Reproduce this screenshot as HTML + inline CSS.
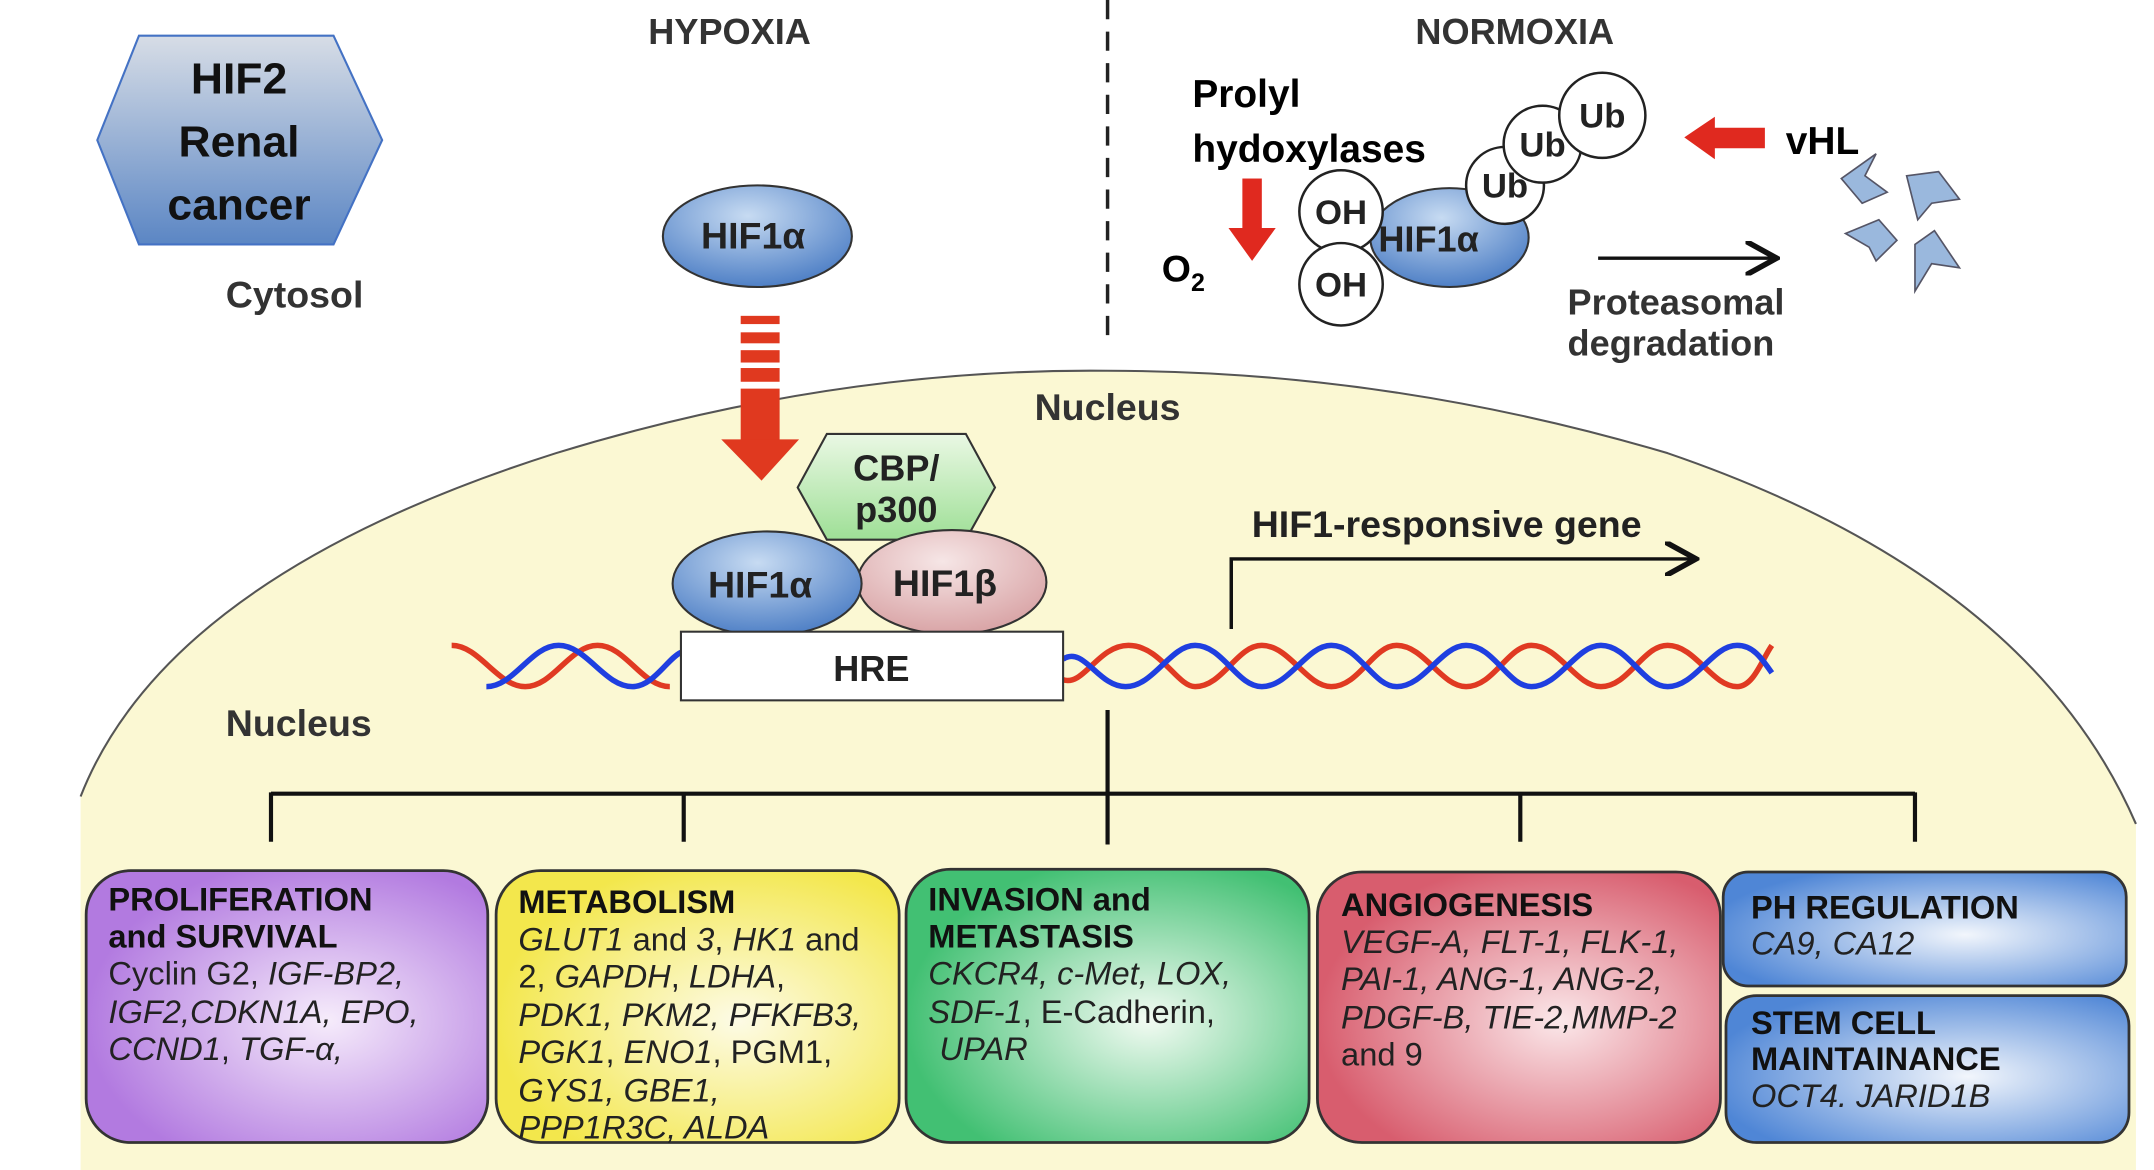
<!DOCTYPE html>
<html><head><meta charset="utf-8"><style>
html,body{margin:0;padding:0;background:#fff;}
svg{display:block;}
text{font-family:"Liberation Sans",sans-serif;}
.b{font-weight:bold;}
.t{font-size:23.5px;fill:#222;}
</style></head><body>
<svg width="2154" height="1170" viewBox="0 0 1550 852" preserveAspectRatio="none" xmlns="http://www.w3.org/2000/svg">
<defs>
<linearGradient id="hex" x1="0" y1="0" x2="0" y2="1"><stop offset="0" stop-color="#d7dde6"/><stop offset="1" stop-color="#5b86c4"/></linearGradient>
<radialGradient id="blue" cx="0.45" cy="0.3" r="0.7"><stop offset="0" stop-color="#c7dbf2"/><stop offset="1" stop-color="#4f80c6"/></radialGradient>
<radialGradient id="pink" cx="0.45" cy="0.3" r="0.7"><stop offset="0" stop-color="#f6e6e6"/><stop offset="1" stop-color="#d9a4a6"/></radialGradient>
<linearGradient id="green" x1="0" y1="0" x2="0" y2="1"><stop offset="0" stop-color="#eaf8e4"/><stop offset="1" stop-color="#9edf96"/></linearGradient>
<radialGradient id="gp" cx="0.6" cy="0.55" r="0.6"><stop offset="0" stop-color="#f6ecfb"/><stop offset="1" stop-color="#b27ae0"/></radialGradient>
<radialGradient id="gy" cx="0.6" cy="0.55" r="0.6"><stop offset="0" stop-color="#fdfbe6"/><stop offset="1" stop-color="#f3e74c"/></radialGradient>
<radialGradient id="gg" cx="0.6" cy="0.55" r="0.6"><stop offset="0" stop-color="#f3fbf3"/><stop offset="1" stop-color="#42c073"/></radialGradient>
<radialGradient id="gr" cx="0.6" cy="0.55" r="0.6"><stop offset="0" stop-color="#fbe8ea"/><stop offset="1" stop-color="#d85d6e"/></radialGradient>
<radialGradient id="gb" cx="0.6" cy="0.55" r="0.65"><stop offset="0" stop-color="#f2f6fc"/><stop offset="1" stop-color="#4f86d6"/></radialGradient>
<marker id="ah" markerWidth="10" markerHeight="10" refX="8" refY="5" orient="auto"><path d="M0,0 L9,5 L0,10" fill="none" stroke="#111" stroke-width="1.6"/></marker>
</defs>

<path d="M58,852 L58,580 Q120,420 400,330 Q600,268 797,270 Q1000,270 1200,330 Q1460,420 1537,600 L1537,852 Z" fill="#fbf8d3" stroke="none"/>
<path d="M58,580 Q120,420 400,330 Q600,268 797,270 Q1000,270 1200,330 Q1460,420 1537,600" fill="none" stroke="#555" stroke-width="1.5"/>

<polygon points="70,102 100,26 240,26 275,102 240,178 100,178" fill="url(#hex)" stroke="#4472c4" stroke-width="1.5"/>
<text x="172" y="68" text-anchor="middle" class="b" font-size="32" fill="#111">HIF2</text>
<text x="172" y="114" text-anchor="middle" class="b" font-size="32" fill="#111">Renal</text>
<text x="172" y="160" text-anchor="middle" class="b" font-size="32" fill="#111">cancer</text>

<text x="212" y="224" text-anchor="middle" class="b" font-size="27" fill="#333">Cytosol</text>
<text x="525" y="32" text-anchor="middle" class="b" font-size="26" fill="#333">HYPOXIA</text>
<text x="1090" y="32" text-anchor="middle" class="b" font-size="26" fill="#333">NORMOXIA</text>
<line x1="797" y1="0" x2="797" y2="245" stroke="#222" stroke-width="2.5" stroke-dasharray="14,9"/>

<ellipse cx="545" cy="172" rx="68" ry="37" fill="url(#blue)" stroke="#333" stroke-width="1.5"/>
<text x="542" y="181" text-anchor="middle" class="b" font-size="27" fill="#222">HIF1α</text>

<g fill="#e0391f">
<rect x="533" y="230" width="28" height="6"/>
<rect x="533" y="242" width="28" height="8"/>
<rect x="533" y="255" width="28" height="9"/>
<rect x="533" y="268" width="28" height="10"/>
<rect x="533" y="283" width="28" height="40"/>
<polygon points="519,320 575,320 548,350"/>
</g>

<text x="797" y="306" text-anchor="middle" class="b" font-size="27" fill="#333">Nucleus</text>
<text x="215" y="536" text-anchor="middle" class="b" font-size="27" fill="#333">Nucleus</text>

<path d="M325,470 C345,470 358,500 378,500 C398,500 410,470 430,470 C450,470 462,500 482,500" fill="none" stroke="#e03a22" stroke-width="4"/>
<path d="M350,500 C370,500 382,470 402,470 C422,470 435,500 455,500 C470,500 480,480 490,475" fill="none" stroke="#1f3fe0" stroke-width="4"/>
<path d="M765,495 C780,500 790,470 812,470 C835,470 847,500 860,500 C880,500 890,470 908,470 C928,470 940,500 958,500 C978,500 988,470 1005,470 C1025,470 1037,500 1055,500 C1075,500 1085,470 1102,470 C1122,470 1134,500 1152,500 C1172,500 1182,470 1200,470 C1220,470 1232,500 1250,500 C1262,500 1268,480 1275,470" fill="none" stroke="#e03a22" stroke-width="4"/>
<path d="M765,480 C780,470 790,500 810,500 C830,500 842,470 860,470 C880,470 890,500 908,500 C928,500 940,470 958,470 C978,470 988,500 1005,500 C1025,500 1037,470 1055,470 C1075,470 1085,500 1102,500 C1122,500 1134,470 1152,470 C1172,470 1182,500 1200,500 C1220,500 1232,470 1250,470 C1262,470 1268,480 1275,490" fill="none" stroke="#1f3fe0" stroke-width="4"/>

<polygon points="574,355 595,316 695,316 716,355 695,393 595,393" fill="url(#green)" stroke="#333" stroke-width="1.5"/>
<text x="645" y="350" text-anchor="middle" class="b" font-size="26" fill="#222">CBP/</text>
<text x="645" y="380" text-anchor="middle" class="b" font-size="26" fill="#222">p300</text>
<ellipse cx="685" cy="424" rx="68" ry="38" fill="url(#pink)" stroke="#333" stroke-width="1.5"/>
<text x="680" y="434" text-anchor="middle" class="b" font-size="27" fill="#222">HIF1β</text>
<ellipse cx="552" cy="425" rx="68" ry="38" fill="url(#blue)" stroke="#333" stroke-width="1.5"/>
<text x="547" y="435" text-anchor="middle" class="b" font-size="27" fill="#222">HIF1α</text>
<rect x="490" y="460" width="275" height="50" fill="#fff" stroke="#333" stroke-width="1.5"/>
<text x="627" y="496" text-anchor="middle" class="b" font-size="26" fill="#222">HRE</text>

<polyline points="886,458 886,407 1218,407" fill="none" stroke="#111" stroke-width="2.5" marker-end="url(#ah)"/>
<text x="1041" y="391" text-anchor="middle" class="b" font-size="27" fill="#222">HIF1-responsive gene</text>

<g stroke="#111" stroke-width="3" fill="none">
<line x1="797" y1="517" x2="797" y2="615"/>
<line x1="195" y1="578" x2="1378" y2="578"/>
<line x1="195" y1="577" x2="195" y2="613"/>
<line x1="492" y1="577" x2="492" y2="613"/>
<line x1="1094" y1="577" x2="1094" y2="613"/>
<line x1="1378" y1="577" x2="1378" y2="613"/>
</g>

<g stroke="#333" stroke-width="2">
<rect x="62" y="634" width="289" height="198" rx="32" fill="url(#gp)"/>
<rect x="357" y="634" width="290" height="198" rx="32" fill="url(#gy)"/>
<rect x="652" y="633" width="290" height="199" rx="32" fill="url(#gg)"/>
<rect x="948" y="635" width="290" height="197" rx="32" fill="url(#gr)"/>
<rect x="1240" y="635" width="290" height="83" rx="18" fill="url(#gb)"/>
<rect x="1242" y="725" width="290" height="107" rx="22" fill="url(#gb)"/>
</g>
<g class="t">
<text x="78" y="663" class="b" fill="#111">PROLIFERATION</text>
<text x="78" y="690" class="b" fill="#111">and SURVIVAL</text>
<text x="78" y="717">Cyclin G2, <tspan font-style="italic">IGF-BP2,</tspan></text>
<text x="78" y="745" font-style="italic">IGF2,CDKN1A, EPO,</text>
<text x="78" y="772"><tspan font-style="italic">CCND1</tspan>, <tspan font-style="italic">TGF-α,</tspan></text>

<text x="373" y="665" class="b" fill="#111">METABOLISM</text>
<text x="373" y="692"><tspan font-style="italic">GLUT1</tspan> and <tspan font-style="italic">3</tspan>, <tspan font-style="italic">HK1</tspan> and</text>
<text x="373" y="719">2, <tspan font-style="italic">GAPDH</tspan>, <tspan font-style="italic">LDHA</tspan>,</text>
<text x="373" y="747" font-style="italic">PDK1, PKM2, PFKFB3,</text>
<text x="373" y="774"><tspan font-style="italic">PGK1</tspan>, <tspan font-style="italic">ENO1</tspan>, PGM1,</text>
<text x="373" y="802" font-style="italic">GYS1, GBE1,</text>
<text x="373" y="829" font-style="italic">PPP1R3C, ALDA</text>

<text x="668" y="663" class="b" fill="#111">INVASION and</text>
<text x="668" y="690" class="b" fill="#111">METASTASIS</text>
<text x="668" y="717" font-style="italic">CKCR4, c-Met, LOX,</text>
<text x="668" y="745"><tspan font-style="italic">SDF-1</tspan>, E-Cadherin,</text>
<text x="676" y="772" font-style="italic">UPAR</text>

<text x="965" y="667" class="b" fill="#111">ANGIOGENESIS</text>
<text x="965" y="694" font-style="italic">VEGF-A, FLT-1, FLK-1,</text>
<text x="965" y="721" font-style="italic">PAI-1, ANG-1, ANG-2,</text>
<text x="965" y="749" font-style="italic">PDGF-B, TIE-2,MMP-2</text>
<text x="965" y="776">and 9</text>

<text x="1260" y="669" class="b" fill="#111">PH REGULATION</text>
<text x="1260" y="695" font-style="italic">CA9, CA12</text>
<text x="1260" y="753" class="b" fill="#111">STEM CELL</text>
<text x="1260" y="779" class="b" fill="#111">MAINTAINANCE</text>
<text x="1260" y="806" font-style="italic">OCT4. JARID1B</text>
</g>

<text x="858" y="78" class="b" font-size="28" fill="#000">Prolyl</text>
<text x="858" y="118" class="b" font-size="28" fill="#000">hydoxylases</text>
<rect x="894" y="130" width="14" height="38" fill="#e0291f"/>
<polygon points="884,166 918,166 901,190" fill="#e0291f"/>
<text x="836" y="205" class="b" font-size="27" fill="#000">O<tspan font-size="18" dy="7">2</tspan></text>
<ellipse cx="1043" cy="173" rx="57" ry="36" fill="url(#blue)" stroke="#333" stroke-width="1.5"/>
<text x="1028" y="183" text-anchor="middle" class="b" font-size="26" fill="#222">HIF1α</text>
<g stroke="#222" stroke-width="1.8" fill="#fff">
<circle cx="965" cy="154" r="30"/>
<circle cx="965" cy="207" r="30"/>
<circle cx="1083" cy="135" r="28"/>
<circle cx="1110" cy="105" r="28"/>
<circle cx="1153" cy="84" r="31"/>
</g>
<g class="b" font-size="25" fill="#222" text-anchor="middle">
<text x="965" y="163">OH</text>
<text x="965" y="216">OH</text>
<text x="1083" y="144">Ub</text>
<text x="1110" y="114">Ub</text>
<text x="1153" y="93">Ub</text>
</g>
<polygon points="1212,100 1234,85 1234,93 1270,93 1270,108 1234,108 1234,116" fill="#e0291f"/>
<text x="1285" y="112" class="b" font-size="28" fill="#000">vHL</text>
<line x1="1150" y1="188" x2="1276" y2="188" stroke="#111" stroke-width="2.5" marker-end="url(#ah)"/>
<text x="1128" y="229" class="b" font-size="26" fill="#333">Proteasomal</text>
<text x="1128" y="259" class="b" font-size="26" fill="#333">degradation</text>
<g fill="#9ab8dd" stroke="#556" stroke-width="1.2">
<path d="M1325,130 L1350,112 L1342,128 L1358,140 L1340,148 Z"/>
<path d="M1372,128 L1395,125 L1410,145 L1390,148 L1380,160 Z"/>
<path d="M1328,170 L1352,160 L1365,175 L1350,190 L1345,180 Z"/>
<path d="M1378,178 L1392,168 L1410,195 L1390,192 L1378,212 Z"/>
</g>
</svg>
</body></html>
